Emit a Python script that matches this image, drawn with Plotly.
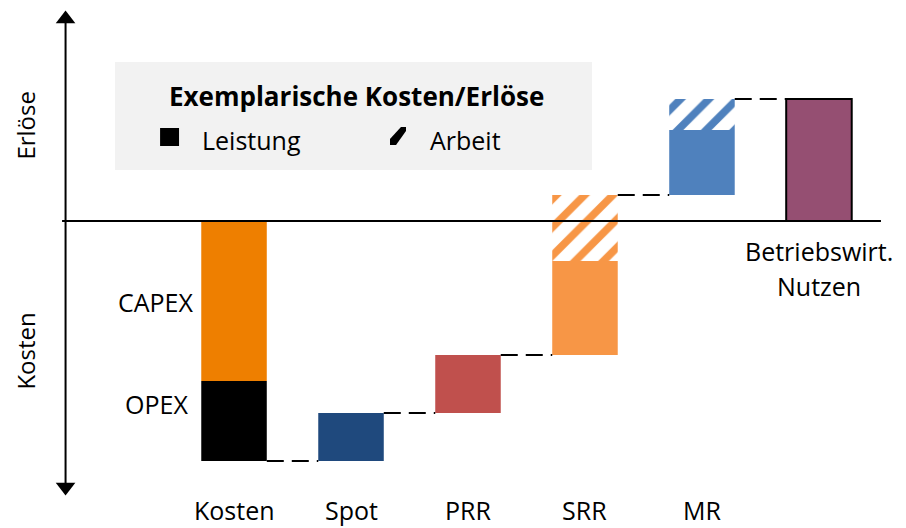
import plotly.graph_objects as go

categories = ["Kosten", "Spot", "PRR", "SRR", "MR"]
capex = -16.0
opex = -8.0
spot = 4.8
prr = 5.8
srr_leistung = 9.4
srr_arbeit = 6.6
mr_leistung = 6.5
mr_arbeit = 3.1
nutzen = 12.2
nutzen_lines = ["Betriebswirt.", "Nutzen"]

FONT = "Open Sans"
FS = 25
W = 0.56


def hatch(color):
    return dict(color="white", line_width=0,
                pattern=dict(shape="/", fgcolor=color, bgcolor="white", fgopacity=1,
                             fillmode="overlay", size=20, solidity=0.38))


fig = go.Figure()

# Kosten stacked (CAPEX on top at zero, OPEX below)
fig.add_bar(x=[0], y=[capex], base=[0], width=W, marker=dict(color="#EE7F00", line_width=0))
fig.add_bar(x=[0], y=[opex], base=[capex], width=W, marker=dict(color="#000000", line_width=0))

total = capex + opex
levels = [total]
fig.add_bar(x=[1], y=[spot], base=[total], width=W, marker=dict(color="#1F497D", line_width=0))
total += spot; levels.append(total)
fig.add_bar(x=[2], y=[prr], base=[total], width=W, marker=dict(color="#C0504D", line_width=0))
total += prr; levels.append(total)
fig.add_bar(x=[3], y=[srr_leistung], base=[total], width=W, marker=dict(color="#F79646", line_width=0))
total += srr_leistung
fig.add_bar(x=[3], y=[srr_arbeit], base=[total], width=W, marker=hatch("#F79646"))
total += srr_arbeit; levels.append(total)
fig.add_bar(x=[4], y=[mr_leistung], base=[total], width=W, marker=dict(color="#4F81BD", line_width=0))
total += mr_leistung
fig.add_bar(x=[4], y=[mr_arbeit], base=[total], width=W, marker=hatch("#4F81BD"))
total += mr_arbeit; levels.append(total)
fig.add_bar(x=[5], y=[nutzen], base=[0], width=W,
            marker=dict(color="#954F72", line=dict(color="black", width=2)))

# dashed connectors
for i, lv in enumerate(levels):
    fig.add_trace(go.Scatter(x=[i + W / 2, i + 1 - W / 2], y=[lv, lv], mode="lines",
                             line=dict(color="black", width=2, dash="17px,8px"),
                             hoverinfo="skip"))

# zero line
fig.add_trace(go.Scatter(x=[-1.47, 5.53], y=[0, 0], mode="lines",
                         line=dict(color="black", width=2), hoverinfo="skip"))
# vertical axis with arrows
fig.add_trace(go.Scatter(x=[-1.44, -1.44], y=[20.2, -26.6], mode="lines",
                         line=dict(color="black", width=2), hoverinfo="skip"))
fig.add_trace(go.Scatter(x=[-1.44, -1.44], y=[20.2, -26.6], mode="markers",
                         marker=dict(symbol=["triangle-up", "triangle-down"], size=17, color="black"),
                         hoverinfo="skip"))


def txt(x, y, t, **kw):
    d = dict(x=x, y=y, text=t, showarrow=False,
             font=dict(size=kw.pop("size", FS), color="black", family=FONT))
    d.update(kw)
    return d


annotations = []
for i, c in enumerate(categories):
    annotations.append(txt(i, -28.9, c))
annotations.append(txt(5, -3.0, nutzen_lines[0]))
annotations.append(txt(5, -6.5, nutzen_lines[1]))
annotations.append(txt(-0.333, -8.1, "CAPEX", xanchor="right"))
annotations.append(txt(-0.376, -18.3, "OPEX", xanchor="right"))
annotations.append(txt(-1.79, 9.6, "Erlöse", textangle=-90, size=24))
annotations.append(txt(-1.79, -13.0, "Kosten", textangle=-90, size=24))
# legend text
annotations.append(txt(1.043, 12.5, "<b>Exemplarische Kosten/Erlöse</b>", size=26))
annotations.append(txt(-0.29, 8.1, "Leistung", xanchor="left"))
annotations.append(txt(1.658, 8.1, "Arbeit", xanchor="left"))

shapes = [
    dict(type="rect", x0=-1.017, x1=3.06, y0=5.1, y1=15.9, fillcolor="#F2F2F2",
         line_width=0, layer="below"),
    dict(type="rect", x0=-0.632, x1=-0.470, y0=7.5, y1=9.3, fillcolor="black", line_width=0),
    dict(type="path",
         path="M 1.333 7.6 L 1.333 8.2 L 1.427 9.4 L 1.470 9.4 L 1.470 9.0 L 1.385 7.6 Z",
         fillcolor="black", line_width=0),
]

# page has an 8px body margin: figure pixel (0,0) sits at page (8,8)
fig.update_layout(
    width=898, height=520,
    margin=dict(l=0, r=0, t=0, b=0),
    plot_bgcolor="white", paper_bgcolor="white",
    showlegend=False, barmode="overlay",
    xaxis=dict(range=[-1.932, 5.744], visible=False, fixedrange=True),
    yaxis=dict(range=[-30.7, 21.3], visible=False, fixedrange=True),
    annotations=annotations, shapes=shapes,
    font=dict(family=FONT),
)

fig.write_html("out.html")
